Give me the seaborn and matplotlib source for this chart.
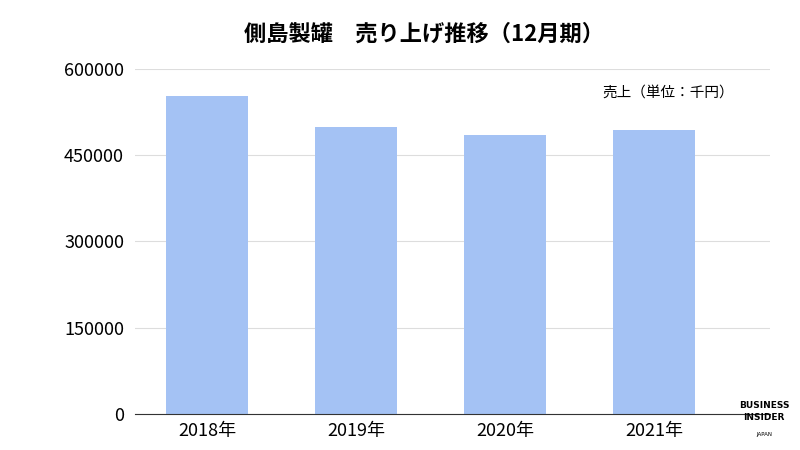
import matplotlib
matplotlib.use("Agg")
import matplotlib.pyplot as plt
import seaborn as sns
import pandas as pd

years = ["2018年", "2019年", "2020年", "2021年"]
sales = [552000, 499000, 485000, 494000]
yticks = [0, 150000, 300000, 450000, 600000]

plt.rcParams["font.family"] = "Noto Sans CJK JP"
fig = plt.figure(figsize=(8, 4.5), dpi=100)
ax = fig.add_axes([0.169, 0.08, 0.794, 0.767])
df = pd.DataFrame({"year": years, "sales": sales})
sns.barplot(data=df, x="year", y="sales", color="#a4c2f4", saturation=1, width=0.55, ax=ax)
ax.set_xlim(-0.483, 3.78)
ax.set_ylim(0, 600000)
ax.set_yticks(yticks)
ax.set_yticklabels([str(v) for v in yticks], fontsize=13)
ax.tick_params(axis="x", labelsize=13, length=0, pad=6)
ax.tick_params(axis="y", length=0, pad=8)
ax.grid(axis="y", color="#dddddd", linewidth=0.8)
ax.set_axisbelow(True)
for s in ["top", "right", "left"]:
    ax.spines[s].set_visible(False)
ax.spines["bottom"].set_color("#333333")
ax.set_xlabel("")
ax.set_ylabel("")
ax.text(0.943, 0.93, "売上（単位：千円）", transform=ax.transAxes, ha="right", va="center", fontsize=10.5)
fig.text(0.53, 0.925, "側島製罐　売り上げ推移（12月期）", ha="center", va="center", fontsize=16, fontweight="bold")
fig.text(0.955, 0.085, "BUSINESS\nINSIDER", ha="center", va="center", fontsize=6.5, fontweight="bold", family="DejaVu Sans", linespacing=1.4)
fig.text(0.955, 0.035, "JAPAN", ha="center", va="center", fontsize=4, family="DejaVu Sans")
fig.savefig("out.png")
